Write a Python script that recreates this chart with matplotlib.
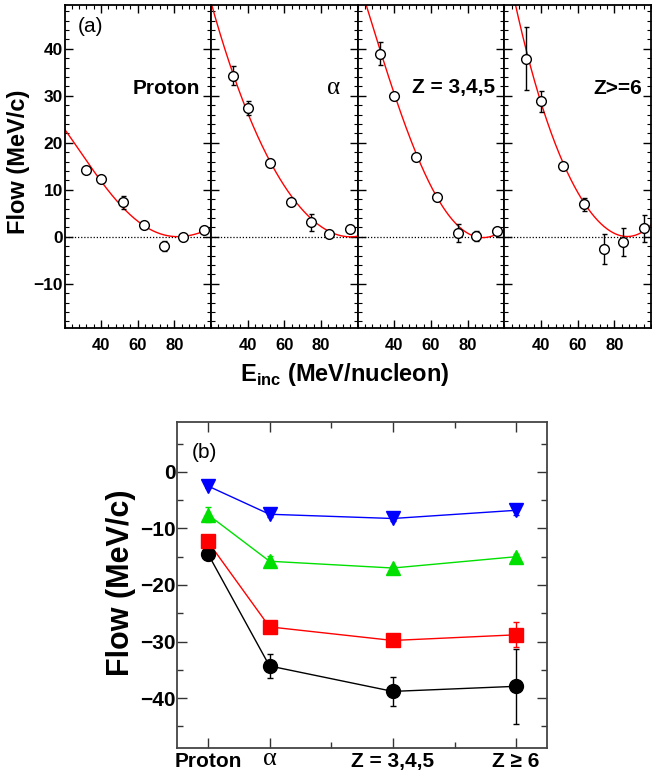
import numpy as np
import matplotlib
matplotlib.use("Agg")
import matplotlib.pyplot as plt
from matplotlib.ticker import FixedLocator, MultipleLocator

plt.rcParams['font.family'] = ['Liberation Sans', 'DejaVu Sans']
plt.rcParams['mathtext.fontset'] = 'custom'
plt.rcParams['mathtext.rm'] = 'Liberation Sans'
plt.rcParams['mathtext.bf'] = 'Liberation Sans:bold'
plt.rcParams['axes.unicode_minus'] = True

# ---------------- Panel (a) data ----------------
energies = [32, 40, 52, 63.5, 74.5, 84.5, 96]
panel_labels = ["Proton", "α", "Z = 3,4,5", "Z>=6"]

flow_proton = [14.3, 12.2, 7.3, 2.5, -1.9, -0.1, 1.5]
err_proton = [0.4, 0.3, 1.4, 0.3, 1.1, 0.3, 0.3]
flow_alpha = [34.3, 27.4, 15.7, 7.45, 3.05, 0.65, 1.6]
err_alpha = [2.1, 1.5, 0.6, 0.3, 1.85, 0.5, 0.3]
flow_z345 = [38.9, 29.9, 17.0, 8.45, 0.8, 0.2, 1.3]
err_z345 = [2.45, 0.3, 0.3, 0.3, 2.0, 1.1, 0.3]
flow_z6 = [37.9, 28.8, 15.1, 6.9, -2.6, -1.1, 1.8]
err_z6 = [6.7, 2.2, 0.4, 1.4, 3.1, 3.05, 2.9]

# anchor points (E, flow)
fit_proton_E = [20, 31.7, 40, 52, 63, 74, 82, 90, 100]
fit_proton_F = [22.9, 16.4, 11.8, 6.1, 2.4, 0.57, 0.06, 0.3, 1.85]
fit_alpha_E = [20.4, 31.4, 40, 52.2, 63.2, 75, 85, 90.8, 96.3, 100]
fit_alpha_F = [49.3, 34.8, 27.0, 15.7, 8.8, 4.0, 0.9, 0.2, 0.06, 0.1]
fit_z345_E = [24.6, 40, 52.2, 64, 75, 89, 100]
fit_z345_F = [49.3, 30.4, 17.0, 8.7, 1.5, 0.15, 1.5]
fit_z6_E = [26.5, 31.5, 40, 52.2, 63.5, 74.5, 85, 96.3, 100]
fit_z6_F = [49.3, 38.7, 29.9, 15.1, 7.2, 2.2, 0.06, 1.5, 2.4]

# ---------------- Panel (b) data ----------------
species = ["Proton", "α", "Z = 3,4,5", "Z ≥ 6"]
species_x = [1, 2, 4, 6]
flow_blue = [-2.5, -7.5, -8.25, -6.8]
err_blue = [0.4, 0.4, 0.4, 0.8]
flow_green = [-7.55, -15.8, -17.0, -15.0]
err_green = [1.4, 1.0, 0.4, 0.4]
flow_red = [-12.3, -27.4, -29.8, -28.8]
err_red = [0.4, 1.0, 0.4, 2.2]
flow_black = [-14.45, -34.3, -38.8, -37.9]
err_black = [0.4, 2.1, 2.5, 6.6]

W, H = 652, 776
fig = plt.figure(figsize=(W / 100, H / 100), dpi=100)

left_a, right_a = 64.5, 651.0
top_a, bot_a = 5.0, 328.0
pw = (right_a - left_a) / 4

flows = [flow_proton, flow_alpha, flow_z345, flow_z6]
errs = [err_proton, err_alpha, err_z345, err_z6]
fitsE = [fit_proton_E, fit_alpha_E, fit_z345_E, fit_z6_E]
fitsF = [fit_proton_F, fit_alpha_F, fit_z345_F, fit_z6_F]
label_pos = [(200, 88, 'right'), (334, 88, 'center'), (495, 88, 'right'), (642, 88, 'right')]

for i in range(4):
    x0 = left_a + i * pw
    ax = fig.add_axes([x0 / W, 1 - bot_a / H, pw / W, (bot_a - top_a) / H])
    ax.set_xlim(20, 100)
    ax.set_ylim(-19.4, 49.3)
    ax.axhline(0, color='black', ls=(0, (1, 1.5)), lw=0.9, zorder=1)
    # fit curve
    coef = np.polyfit(fitsE[i], fitsF[i], 4)
    xx = np.linspace(18, 102, 300)
    ax.plot(xx, np.polyval(coef, xx), color='red', lw=1.0, zorder=2)
    ax.errorbar(energies, flows[i], yerr=errs[i], fmt='o', mfc='white', mec='black',
                ms=7, mew=1.0, ecolor='black', elinewidth=1.0, capsize=1.8, capthick=1.0,
                zorder=3)
    ax.xaxis.set_major_locator(FixedLocator([40, 60, 80]))
    ax.xaxis.set_minor_locator(MultipleLocator(4))
    ax.yaxis.set_major_locator(MultipleLocator(10))
    ax.yaxis.set_minor_locator(MultipleLocator(2))
    ax.tick_params(which='both', direction='in', top=True, right=True)
    ax.tick_params(which='major', length=6, width=1.0)
    ax.tick_params(which='minor', length=3, width=0.8)
    ax.tick_params(axis='x', which='major', pad=7, labelsize=12)
    ax.tick_params(axis='y', which='major', pad=1, labelsize=12.5)
    for lab in ax.get_xticklabels() + ax.get_yticklabels():
        lab.set_fontweight('bold')
    if i > 0:
        ax.tick_params(axis='y', labelleft=False)
    for s in ax.spines.values():
        s.set_linewidth(1.3)
    tx, ty, ha = label_pos[i]
    if i == 1:
        fig.text(tx / W, 1 - ty / H, panel_labels[i], ha=ha, va='center', fontsize=18,
                 family=['Liberation Serif', 'DejaVu Serif'])
    else:
        fig.text(tx / W, 1 - ty / H, panel_labels[i], ha=ha, va='center', fontsize=15,
                 fontweight='bold')

fig.text(78 / W, 1 - 27 / H, "(a)", ha='left', va='center', fontsize=15)
fig.text(19 / W, 1 - 162 / H, "Flow (MeV/c)", rotation=90, ha='center', va='center',
         fontsize=17, fontweight='bold')
fig.text(345 / W, 1 - 374 / H, r"E$_{\mathbf{inc}}$ (MeV/nucleon)", ha='center', va='center',
         fontsize=17, fontweight='bold')

# ---------------- Panel (b) ----------------
bl, br, bt, bb = 177.0, 547.0, 422.0, 748.0
axb = fig.add_axes([bl / W, 1 - bb / H, (br - bl) / W, (bb - bt) / H])
axb.set_xlim(0.5, 6.5)
axb.set_ylim(-48.8, 8.8)
series = [(flow_black, err_black, 'black', 'o', 10),
          (flow_red, err_red, '#ff0000', 's', 9.5),
          (flow_green, err_green, '#00e000', '^', 10),
          (flow_blue, err_blue, '#0000ff', 'v', 10)]
for f, e, c, m, ms in series:
    axb.plot(species_x, f, color=c, lw=1.0, zorder=2)
    axb.errorbar(species_x, f, yerr=e, fmt=m, color=c, mec=c, ms=ms,
                 ecolor=c, elinewidth=1.0, capsize=2, capthick=1.0, zorder=3)
axb.xaxis.set_major_locator(FixedLocator(species_x))
axb.xaxis.set_minor_locator(FixedLocator([3, 5]))
axb.set_xticklabels(species)
axb.yaxis.set_major_locator(MultipleLocator(10))
axb.yaxis.set_minor_locator(MultipleLocator(5))
axb.tick_params(which='both', direction='in', top=True, right=True, color='#333333')
axb.tick_params(which='major', length=7, width=1.0)
axb.tick_params(which='minor', length=4, width=1.0)
axb.tick_params(axis='y', pad=1, labelsize=15)
axb.tick_params(axis='x', pad=3, labelsize=15)
for lab in axb.get_xticklabels() + axb.get_yticklabels():
    lab.set_fontweight('bold')
alpha_lab = axb.get_xticklabels()[1]
alpha_lab.set_fontweight('normal')
alpha_lab.set_family(['Liberation Serif', 'DejaVu Serif'])
alpha_lab.set_fontsize(19)
alpha_lab.set_y(0.012)
for s in axb.spines.values():
    s.set_linewidth(1.3)
    s.set_color('#444444')
axb.text(0.04, 0.905, "(b)", transform=axb.transAxes, fontsize=15, ha='left', va='center')
fig.text(121 / W, 1 - 583 / H, "Flow (MeV/c)", rotation=90, ha='center', va='center',
         fontsize=22, fontweight='bold')

fig.savefig("out.png", dpi=100)
